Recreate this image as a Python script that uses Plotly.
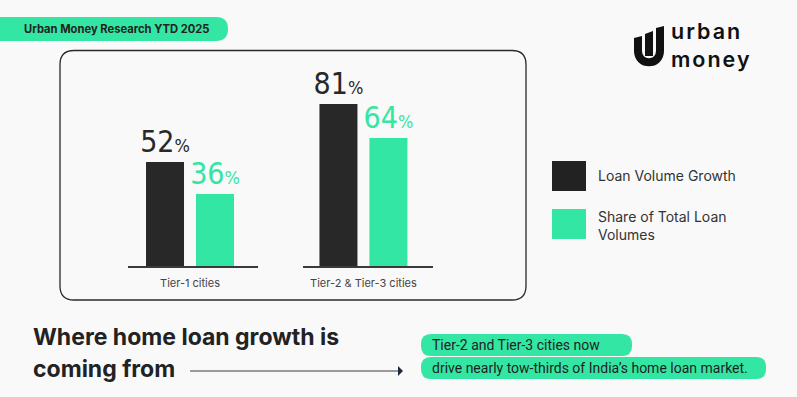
import plotly.graph_objects as go

# ---------------- data ----------------
categories = ["Tier-1 cities", "Tier-2 & Tier-3 cities"]
loan_volume_growth = [52, 81]
share_of_total = [36, 64]
series_names = ["Loan Volume Growth", "Share of Total Loan<br>Volumes"]
badge_text = "Urban Money Research YTD 2025"
headline = ["Where home loan growth is", "coming from"]
callout = ["Tier-2 and Tier-3 cities now", "drive nearly tow-thirds of India’s home loan market."]

W, H = 797, 397
BG = "#f9f9f9"
DARK = "#282828"
GREEN = "#33e6a3"
TXT = "#2b2b2b"
NUMFONT = "DejaVu Sans Condensed, Roboto Condensed, Arial Narrow, sans-serif"


def px(x):
    return x / W


def py(y):
    return 1 - y / H


def rrect(x0, y0, x1, y1, r):
    pts = [
        ("M", [(x0 + r, y0)]), ("L", [(x1 - r, y0)]), ("Q", [(x1, y0), (x1, y0 + r)]),
        ("L", [(x1, y1 - r)]), ("Q", [(x1, y1), (x1 - r, y1)]), ("L", [(x0 + r, y1)]),
        ("Q", [(x0, y1), (x0, y1 - r)]), ("L", [(x0, y0 + r)]), ("Q", [(x0, y0), (x0 + r, y0)]),
    ]
    s = ""
    for cmd, ps in pts:
        s += cmd + " " + " ".join(f"{px(a):.5f},{py(b):.5f}" for a, b in ps) + " "
    return s + "Z"


def poly(points, close=True):
    s = "M " + " L ".join(f"{px(a):.5f},{py(b):.5f}" for a, b in points)
    return s + (" Z" if close else "")


fig = go.Figure()

axis_names = ["x", "x2"]
yaxis_names = ["y", "y2"]
for i, cat in enumerate(categories):
    for vals, col, name in [(loan_volume_growth, DARK, series_names[0]),
                            (share_of_total, GREEN, series_names[1])]:
        fig.add_trace(go.Bar(
            x=[cat], y=[vals[i]], name=name, marker=dict(color=col, line=dict(width=0)),
            xaxis=axis_names[i], yaxis=yaxis_names[i], showlegend=False,
            texttemplate="<span style='font-stretch:condensed'>%{y}</span>"
                         "<span style='font-size:18px;font-stretch:condensed'>%</span>",
            textposition="outside", constraintext="none", cliponaxis=False,
            outsidetextfont=dict(family=NUMFONT, size=30, color=col),
            hoverinfo="skip",
        ))

ydom = [py(266), py(66)]
xcommon = dict(type="category", showline=True, linecolor="#3a3a3a",
               linewidth=1.5, showgrid=False, ticks="", zeroline=False,
               tickfont=dict(family="Inter", size=11, color="#444"), ticklabelstandoff=6,
               fixedrange=True)
ycommon = dict(range=[0, 100], visible=False, showgrid=False, zeroline=False, domain=ydom,
               fixedrange=True)

shapes = []
# frame
shapes.append(dict(type="path", path=rrect(60, 50.5, 526, 300, 14), xref="paper", yref="paper",
                   line=dict(color="#2a2a2a", width=1.3), fillcolor="rgba(0,0,0,0)", layer="below"))
# badge
shapes.append(dict(type="path", path=rrect(-20, 17, 228, 41, 12), xref="paper", yref="paper",
                   line=dict(width=0), fillcolor=GREEN))
# legend squares
shapes.append(dict(type="rect", x0=px(552), x1=px(586), y0=py(161), y1=py(191), xref="paper",
                   yref="paper", line=dict(width=0), fillcolor="#222222"))
shapes.append(dict(type="rect", x0=px(552), x1=px(586), y0=py(209), y1=py(239), xref="paper",
                   yref="paper", line=dict(width=0), fillcolor=GREEN))
# logo icon
u_path = (f"M {px(638):.5f},{py(38):.5f} L {px(638):.5f},{py(51):.5f} "
          f"C {px(638):.5f},{py(66):.5f} {px(660):.5f},{py(66):.5f} {px(660):.5f},{py(51):.5f} "
          f"L {px(660):.5f},{py(28):.5f}")
shapes.append(dict(type="path", path=u_path, xref="paper", yref="paper",
                   line=dict(color="#111", width=8), fillcolor="rgba(0,0,0,0)"))
shapes.append(dict(type="path", path=poly([(634, 38), (642, 36), (642, 40), (634, 40)]),
                   xref="paper", yref="paper", line=dict(width=0), fillcolor="#111"))
shapes.append(dict(type="path", path=poly([(656, 28), (664, 26), (664, 30), (656, 30)]),
                   xref="paper", yref="paper", line=dict(width=0), fillcolor="#111"))
shapes.append(dict(type="path", path=poly([(645, 34), (653, 31), (653, 56), (645, 56)]),
                   xref="paper", yref="paper", line=dict(width=0), fillcolor="#111"))
# arrow
shapes.append(dict(type="line", x0=px(190), x1=px(398), y0=py(371), y1=py(371), xref="paper",
                   yref="paper", line=dict(color="#7a7a7a", width=1.6)))
shapes.append(dict(type="path", path=poly([(398, 366), (403, 371), (398, 376)]), xref="paper",
                   yref="paper", line=dict(width=0), fillcolor="#1c2b3a"))
# callout pills
shapes.append(dict(type="path", path=rrect(421, 334, 632, 356, 10), xref="paper", yref="paper",
                   line=dict(width=0), fillcolor=GREEN))
shapes.append(dict(type="path", path=rrect(421, 357, 766, 379, 10), xref="paper", yref="paper",
                   line=dict(width=0), fillcolor=GREEN))

ann = []


def text(x, y, t, size, color=TXT, family="Inter", weight=None, anchor="left"):
    f = dict(family=family, size=size, color=color)
    if weight:
        f["weight"] = weight
    ann.append(dict(x=px(x), y=py(y), xref="paper", yref="paper", text=t, showarrow=False,
                    xanchor=anchor, yanchor="middle", font=f, align="left"))


text(22, 29, badge_text, 11.2, color="#222", weight=700)
text(596, 175, series_names[0], 14, color="#333")
text(596, 226, series_names[1], 14, color="#333")
text(669, 45, "<span style='letter-spacing:2px'>urban</span><br>"
              "<span style='letter-spacing:2px'>money</span>", 21.5, color="#111", weight=600)
text(31, 337, headline[0], 23, color="#222", weight=700)
text(31, 369, headline[1], 23, color="#222", weight=700)
text(430, 345, callout[0], 14, color="#1f1f1f", family="Roboto")
text(430, 368, callout[1], 14, color="#1f1f1f", family="Roboto")

fig.update_layout(
    width=W, height=H, margin=dict(l=0, r=0, t=0, b=0),
    paper_bgcolor=BG, plot_bgcolor="rgba(0,0,0,0)",
    barmode="group", bargap=0.231, bargroupgap=0.24,
    xaxis=dict(domain=[px(128), px(258)], anchor="y", range=[-0.477, 0.523], **xcommon),
    xaxis2=dict(domain=[px(303), px(433)], anchor="y2", range=[-0.465, 0.535], **xcommon),
    yaxis=dict(anchor="x", **ycommon),
    yaxis2=dict(anchor="x2", **ycommon),
    shapes=shapes, annotations=ann, showlegend=False,
)

fig.write_html("out.html", config={"displayModeBar": False},
               post_script="document.body.style.margin='0';")
